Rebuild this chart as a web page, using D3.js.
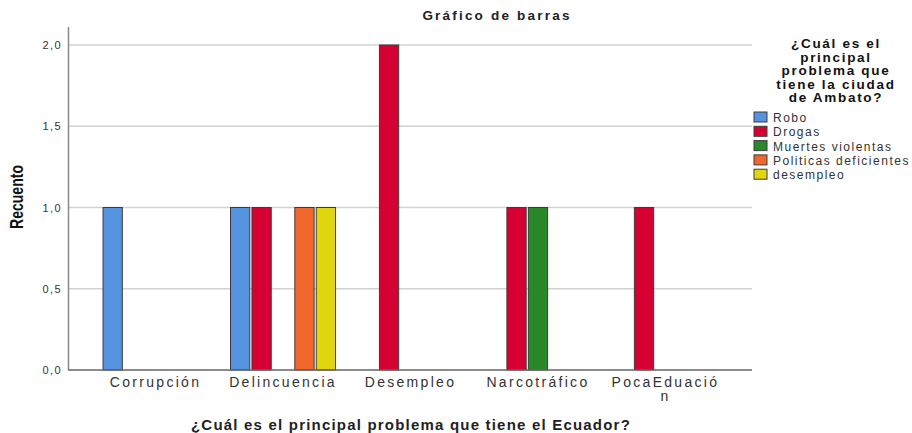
<!DOCTYPE html>
<meta charset="utf-8">
<style>
    body { margin: 0; background: #fff; }
    text { font-family: "Liberation Sans", Arial, sans-serif; fill: #222; }
    .tick text { font-size: 11px; letter-spacing: 1.4px; fill: #333; }
    .xlab { font-size: 14px; letter-spacing: 2.3px; fill: #333; }
    .leg text { font-size: 12px; letter-spacing: 1.5px; fill: #333; }
</style>
<svg width="912" height="433"></svg>

<script src="https://d3js.org/d3.v7.min.js"></script>
<script>
    var categories = ["Corrupción", "Delincuencia", "Desempleo", "Narcotráfico", "PocaEduación"];
    var series = ["Robo", "Drogas", "Muertes violentas", "Politicas deficientes", "desempleo"];
    var colors = ["#5593e1", "#d60032", "#2a872a", "#f1672b", "#e1d50d"];
    // counts per category, one per series (0 = no bar)
    var robo      = [1, 1, 0, 0, 0];
    var drogas    = [0, 1, 2, 1, 1];
    var muertes   = [0, 0, 0, 1, 0];
    var politicas = [0, 1, 0, 0, 0];
    var desempleo = [0, 1, 0, 0, 0];
    var yTicks = [0, 0.5, 1, 1.5, 2];
    var legendTitle = ["¿Cuál es el", "principal", "problema que", "tiene la ciudad", "de Ambato?"];

    var values = [robo, drogas, muertes, politicas, desempleo];

    var svg = d3.select("svg"),
        left = 69, right = 752, plotTop = 45, bottom = 370;

    var x = d3.scaleBand().domain(categories).range([left, right])
        .paddingInner(0.176).paddingOuter(0.267);
    var xs = d3.scaleBand().domain(series).range([0, x.bandwidth()]).paddingInner(0.1);
    var y = d3.scaleLinear().domain([0, 2]).range([bottom, plotTop]);

    // gridlines
    svg.append("g").selectAll("line")
        .data(yTicks.filter(function(d) { return d > 0; }))
        .enter().append("line")
        .attr("x1", left).attr("x2", right)
        .attr("y1", function(d) { return y(d); })
        .attr("y2", function(d) { return y(d); })
        .attr("stroke", "#d2d2d2").attr("stroke-width", 1.5);

    // y axis
    var yAxis = svg.append("g").attr("transform", "translate(" + left + ",0)")
        .call(d3.axisLeft(y).tickValues(yTicks).tickSize(0).tickPadding(7)
            .tickFormat(function(d) { return d3.format(".1f")(d).replace(".", ","); }));
    yAxis.select(".domain").remove();
    svg.append("line").attr("x1", left - 0.5).attr("x2", left - 0.5)
        .attr("y1", 27).attr("y2", bottom)
        .attr("stroke", "#8a8a8a").attr("stroke-width", 1.5);

    // bars
    var rows = [];
    categories.forEach(function(c, i) {
        series.forEach(function(s, j) {
            if (values[j][i] > 0) rows.push({cat: c, ser: s, idx: j, v: values[j][i]});
        });
    });
    svg.append("g").selectAll("rect")
        .data(rows)
        .enter().append("rect")
        .attr("x", function(d) { return x(d.cat) + xs(d.ser); })
        .attr("width", xs.bandwidth())
        .attr("y", function(d) { return y(d.v); })
        .attr("height", function(d) { return y(0) - y(d.v); })
        .attr("fill", function(d) { return colors[d.idx]; })
        .attr("stroke", "#3c3c3c").attr("stroke-width", 1);

    // x baseline
    svg.append("line").attr("x1", left - 1).attr("x2", right)
        .attr("y1", bottom).attr("y2", bottom)
        .attr("stroke", "#666").attr("stroke-width", 1.5);

    // category labels (wrap last one like the original)
    categories.forEach(function(c) {
        var cx = x(c) + x.bandwidth() / 2;
        var t = svg.append("text").attr("class", "xlab")
            .attr("text-anchor", "middle")
            .attr("x", cx)
            .attr("y", 387);
        if (c === "PocaEduación") {
            t.append("tspan").attr("x", cx).text("PocaEduació");
            t.append("tspan").attr("x", cx).attr("dy", 14).text("n");
        } else {
            t.text(c);
        }
    });

    // titles
    svg.append("text").attr("x", 497).attr("y", 20).attr("text-anchor", "middle")
        .style("font-size", "13.5px").style("font-weight", "bold").style("letter-spacing", "2.2px")
        .text("Gráfico de barras");
    svg.append("text").attr("x", 411).attr("y", 430).attr("text-anchor", "middle")
        .style("font-size", "15px").style("font-weight", "bold").style("letter-spacing", "1.2px")
        .text("¿Cuál es el principal problema que tiene el Ecuador?");
    svg.append("text").attr("transform", "translate(23,197) rotate(-90)")
        .attr("text-anchor", "middle")
        .attr("textLength", 64).attr("lengthAdjust", "spacingAndGlyphs")
        .style("font-size", "18px").style("font-weight", "bold")
        .style("fill", "#111")
        .text("Recuento");

    // legend
    var leg = svg.append("g").attr("class", "leg");
    leg.selectAll("text.lt").data(legendTitle).enter().append("text")
        .attr("class", "lt")
        .attr("x", 836).attr("y", function(d, i) { return 48 + i * 13.6; })
        .attr("text-anchor", "middle")
        .style("font-size", "13.5px").style("font-weight", "bold").style("letter-spacing", "1.7px")
        .style("fill", "#111")
        .text(function(d) { return d; });
    var item = leg.selectAll("g.item").data(series).enter().append("g")
        .attr("class", "item")
        .attr("transform", function(d, i) { return "translate(754," + (112 + i * 14.3) + ")"; });
    item.append("rect").attr("width", 13).attr("height", 10)
        .attr("fill", function(d, i) { return colors[i]; })
        .attr("stroke", "#3c3c3c").attr("stroke-width", 1);
    item.append("text").attr("x", 19).attr("y", 10).text(function(d) { return d; });
</script>
